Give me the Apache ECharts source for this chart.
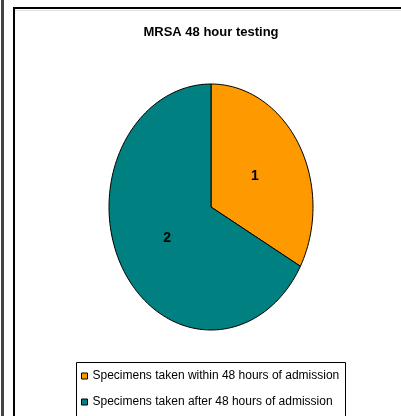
<!DOCTYPE html>
<html>
<head>
<meta charset="utf-8">
<script src="https://cdn.jsdelivr.net/npm/echarts@6/dist/echarts.min.js"></script>
<style>
  html, body { margin: 0; padding: 0; background: #fff; }
  #chart { width: 401px; height: 416px; }
</style>
</head>
<body>
<div id="chart"></div>
<script>
'use strict'

const titleText = 'MRSA 48 hour testing'
const sliceNames = [
  'Specimens taken within 48 hours of admission',
  'Specimens taken after 48 hours of admission'
]
const sliceLabels = ['1', '2']
const sliceValues = [33, 67]
const sliceColors = ['#FF9900', '#008080']

const FONT = "'Liberation Sans', Arial, sans-serif"

// start / end fractions for every slice, clockwise from 12 o'clock
const total = sliceValues.reduce((a, b) => a + b, 0)
let acc = 0
const sliceRanges = sliceValues.map(v => {
  const r = [acc / total, (acc + v) / total]
  acc += v
  return r
})

// the original pie is an ellipse, so draw sectors on a stretched x/y grid
function renderSlice (params, api) {
  const from = api.value(0) * Math.PI * 2
  const to = api.value(1) * Math.PI * 2
  const steps = Math.max(8, Math.round((to - from) / (Math.PI * 2) * 180))
  const pts = [api.coord([0, 0])]
  for (let i = 0; i <= steps; i++) {
    const a = from + (to - from) * i / steps
    pts.push(api.coord([Math.sin(a), Math.cos(a)]))
  }
  const mid = (from + to) / 2
  const lp = api.coord([0.5 * Math.sin(mid), 0.5 * Math.cos(mid)])
  return {
    type: 'group',
    children: [{
      type: 'polygon',
      shape: { points: pts },
      style: { fill: sliceColors[params.seriesIndex], stroke: '#000', lineWidth: 1 }
    }, {
      type: 'text',
      x: lp[0],
      y: lp[1],
      style: {
        text: sliceLabels[params.seriesIndex],
        fill: '#000',
        font: 'bold 14px ' + FONT,
        align: 'center',
        verticalAlign: 'middle'
      }
    }]
  }
}

const chart = echarts.init(document.getElementById('chart'))

chart.setOption({
  animation: false,
  backgroundColor: '#fff',
  title: {
    text: titleText,
    left: 211,
    top: 26,
    textAlign: 'center',
    padding: 0,
    textStyle: { fontFamily: FONT, fontSize: 13, fontWeight: 'bold', color: '#000' }
  },
  graphic: [
    { type: 'rect', shape: { x: 1, y: 0, width: 3, height: 416 }, style: { fill: '#444' }, silent: true },
    { type: 'rect', shape: { x: 14, y: 8, width: 400, height: 420 }, style: { fill: 'none', stroke: '#000', lineWidth: 2 }, silent: true },
    { type: 'line', shape: { x1: 15, y1: 10.5, x2: 401, y2: 10.5 }, style: { stroke: '#ddd', lineWidth: 1 }, silent: true },
    // legend frame, it runs past the bottom of the picture
    { type: 'rect', shape: { x: 76.5, y: 362.5, width: 269, height: 80 }, style: { fill: 'none', stroke: '#000', lineWidth: 1 }, silent: true }
  ],
  legend: {
    orient: 'vertical',
    left: 77,
    top: 363,
    padding: [6, 4, 2, 4],
    itemWidth: 6,
    itemHeight: 6,
    itemGap: 12,
    icon: 'rect',
    data: sliceNames,
    itemStyle: { borderColor: '#000', borderWidth: 1 },
    textStyle: { fontFamily: FONT, fontSize: 12, color: '#000', lineHeight: 14, padding: [0, 0, 0, 0] }
  },
  grid: { left: 109, top: 84, width: 204, height: 246 },
  xAxis: { type: 'value', min: -1, max: 1, show: false },
  yAxis: { type: 'value', min: -1, max: 1, show: false },
  series: sliceNames.map((name, i) => ({
    type: 'custom',
    name,
    itemStyle: { color: sliceColors[i] },
    renderItem: renderSlice,
    data: [sliceRanges[i]]
  }))
})
</script>
</body>
</html>
